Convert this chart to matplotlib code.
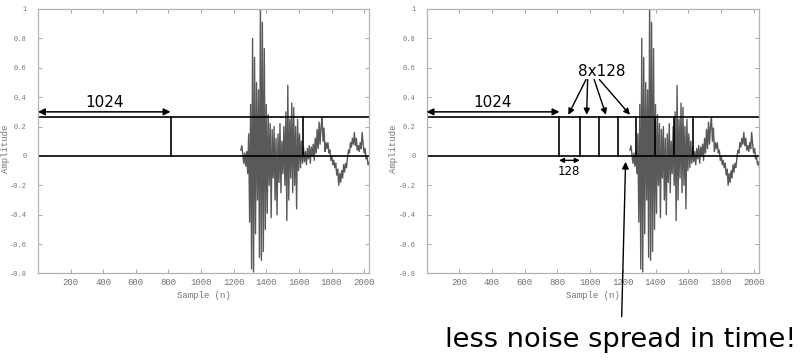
# Windowing figure: one long 1024 window vs. eight short 128 windows
import numpy as np
import matplotlib.pyplot as plt
from matplotlib.ticker import FormatStrFormatter

# -------------------------------
# Data
# -------------------------------
wave_start = 1244      # first sample of the transient
wave_step = 6          # spacing of the read-off values (samples)
wave_amp = [
    0.04, 0.07, 0.01, -0.05, 0.02, -0.07, 0.03, -0.12,
    0.15, -0.45, 0.35, -0.77, 0.80, -0.79, 0.67,
    -0.53, 0.50, -0.30, 0.45, -0.69, 1.05, -0.71, 0.91, -0.65, 0.73,
    -0.50, 0.35, -0.39, 0.28, -0.20, 0.22, -0.42, 0.18, -0.15, 0.20,
    -0.30, 0.12, -0.40, 0.15, -0.18, 0.22, -0.25, 0.10, -0.12, 0.20,
    -0.20, 0.30, -0.44, 0.48, -0.30, 0.25, -0.15, 0.36, -0.25, 0.33,
    -0.20, 0.20, -0.36, 0.25, -0.10, 0.15, -0.08, 0.10, -0.05, 0.06,
    -0.04, 0.03, -0.06, 0.05, -0.02, 0.07, -0.05, 0.06, 0.00, 0.08,
    -0.03, 0.12, 0.02, 0.18, 0.05, 0.23, 0.08, 0.20, 0.26, 0.10,
    0.19, 0.03, 0.09,
    0.05, 0.09, 0.02, 0.04, -0.03, 0.00, -0.06, -0.03, -0.08, -0.05,
    -0.13, -0.09, -0.20, -0.12, -0.18, -0.10, -0.15, -0.06, -0.11, -0.05,
    -0.08, -0.01, 0.04, 0.02, 0.09, 0.06, 0.12, 0.08, 0.16, 0.07,
    0.12, 0.04, 0.07, 0.03, 0.09, 0.05, 0.16, 0.08, 0.02, 0.05,
    -0.02, -0.01, -0.06, -0.04, -0.08,
]
wave_n = wave_start + wave_step * np.arange(len(wave_amp))

x_max = 2030
win_height = 0.263
long_edges = [0, 813, 1626]                       # left chart window borders
short_edges = [0, 810, 937, 1053, 1169, 1281, 1399, 1513, 1628]  # right chart
arrow_y = 0.30

x_ticks = [200, 400, 600, 800, 1000, 1200, 1400, 1600, 1800, 2000]
y_ticks = [-0.8, -0.6, -0.4, -0.2, 0, 0.2, 0.4, 0.6, 0.8, 1]

# 8x128 arrows: start x -> tip x
arrow_starts = [975, 985, 1025, 1057]
arrow_tips = [867, 979, 1097, 1244]
arrow_start_y = 0.52
arrow_tip_y = 0.28

# -------------------------------
# Figure
# -------------------------------
fig = plt.figure(figsize=(8.01, 3.6), dpi=100)
ax1 = fig.add_axes([0.0474, 0.2403, 0.4133, 0.7347])
ax2 = fig.add_axes([0.5325, 0.2403, 0.4145, 0.7347])

mono = "Liberation Mono"
gray = "0.45"

for ax in (ax1, ax2):
    ax.plot(wave_n, wave_amp, color="0.35", lw=1.0)
    ax.set_xlim(0, x_max)
    ax.set_ylim(-0.8, 1)
    ax.set_xticks(x_ticks)
    ax.set_yticks(y_ticks)
    ax.yaxis.set_major_formatter(FormatStrFormatter("%g"))
    ax.tick_params(direction="in", top=True, right=True, length=3,
                   width=0.6, color="0.6", labelcolor=gray)
    ax.tick_params(axis="x", labelsize=6.5, pad=3)
    ax.tick_params(axis="y", labelsize=5, pad=8)
    for lab in ax.get_xticklabels() + ax.get_yticklabels():
        lab.set_family(mono)
    for s in ax.spines.values():
        s.set_color("0.7")
        s.set_linewidth(0.9)
    ax.set_xlabel("Sample (n)", family=mono, fontsize=6.5, color=gray)
    ax.set_ylabel("Amplitude", family=mono, fontsize=6.5, color=gray)
    ax.xaxis.set_label_coords(0.5, -0.065)
    ax.yaxis.set_label_coords(-0.085, 0.47)

    # window box: top and bottom lines
    ax.plot([0, x_max], [win_height, win_height], color="k", lw=1.2)
    ax.plot([0, x_max], [0, 0], color="k", lw=1.2)

    # 1024 arrow + label
    ax.annotate("", xy=(0, arrow_y), xytext=(long_edges[1], arrow_y),
                arrowprops=dict(arrowstyle="<|-|>", color="k", lw=1.1,
                                mutation_scale=10, shrinkA=0, shrinkB=0))
    ax.text(long_edges[1] / 2, 0.365, "1024", ha="center", va="center",
            fontsize=11)

# left chart: long windows
for e in long_edges:
    ax1.plot([e, e], [0, win_height], color="k", lw=1.2)

# right chart: short windows
for e in short_edges:
    ax2.plot([e, e], [0, win_height], color="k", lw=1.2)

ax2.text(1071, 0.575, "8x128", ha="center", va="center", fontsize=11)
for sx, tx in zip(arrow_starts, arrow_tips):
    ax2.annotate("", xy=(tx, arrow_tip_y), xytext=(sx, arrow_start_y),
                 arrowprops=dict(arrowstyle="-|>", color="k", lw=1.0,
                                 mutation_scale=9, shrinkA=0, shrinkB=0))

ax2.annotate("", xy=(short_edges[1], -0.03), xytext=(short_edges[2], -0.03),
             arrowprops=dict(arrowstyle="<|-|>", color="k", lw=1.0,
                             mutation_scale=7, shrinkA=0, shrinkB=0))
ax2.text(873, -0.105, "128", ha="center", va="center", fontsize=8.5)

# long arrow from the caption up to the onset of the transient
ax2.annotate("", xy=(1217, -0.04), xycoords="data",
             xytext=(621.7, 43.3), textcoords="figure pixels",
             arrowprops=dict(arrowstyle="-|>", color="k", lw=1.0,
                             mutation_scale=10, shrinkA=0, shrinkB=0),
             annotation_clip=False)

fig.text(445 / 801, 13.3 / 360, "less noise spread in time!",
         ha="left", va="baseline", fontsize=19.6)

plt.savefig("out.png", dpi=100)
